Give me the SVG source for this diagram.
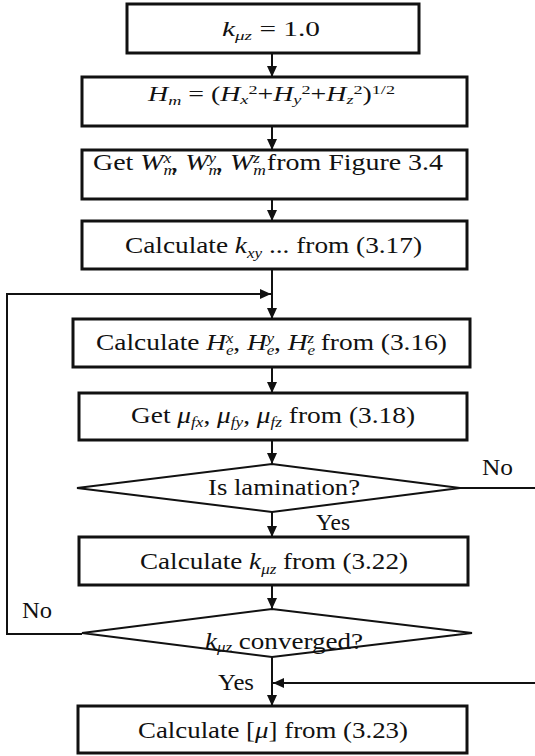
<svg xmlns="http://www.w3.org/2000/svg" width="535" height="756" viewBox="0 0 535 756">
  <style>
    .box { fill: #fff; stroke: #111; stroke-width: 3; }
    .dia { fill: #fff; stroke: #111; stroke-width: 2; }
    .ln { fill: none; stroke: #111; stroke-width: 2; }
    text { font-size: 24px; fill: #111; }
    .sm { font-size: 20px; }
    .i { font-style: italic; }
    .s { font-size: 15px; }
    .ss { font-size: 13px; }
  </style>
  <defs>
    <marker id="arr" markerUnits="userSpaceOnUse" markerWidth="12" markerHeight="10" refX="11" refY="5" orient="auto">
      <path d="M0,0 L11,5 L0,10 z" fill="#111"/>
    </marker>
  </defs>
  <rect width="535" height="756" fill="#fff"/>

  <g font-family="'Liberation Serif', 'DejaVu Serif', serif">
  <!-- connectors -->
  <g id="connectors">
    <line class="ln" x1="272" y1="53" x2="272" y2="77" marker-end="url(#arr)"/>
    <line class="ln" x1="272" y1="126" x2="272" y2="150" marker-end="url(#arr)"/>
    <line class="ln" x1="272" y1="199" x2="272" y2="221" marker-end="url(#arr)"/>
    <line class="ln" x1="272" y1="269" x2="272" y2="319" marker-end="url(#arr)"/>
    <polyline class="ln" points="82,634 7,634 7,294 271,294" marker-end="url(#arr)"/>
    <line class="ln" x1="272" y1="367" x2="272" y2="393" marker-end="url(#arr)"/>
    <line class="ln" x1="272" y1="440" x2="272" y2="464" marker-end="url(#arr)"/>
    <line class="ln" x1="272" y1="512" x2="272" y2="537" marker-end="url(#arr)"/>
    <line class="ln" x1="460" y1="488" x2="535" y2="488"/>
    <line class="ln" x1="272" y1="585" x2="272" y2="609" marker-end="url(#arr)"/>
    <line class="ln" x1="272" y1="657" x2="272" y2="706" marker-end="url(#arr)"/>
    <line class="ln" x1="535" y1="683" x2="273" y2="683" marker-end="url(#arr)"/>
    <text x="482" y="475" textLength="31" lengthAdjust="spacingAndGlyphs">No</text>
    <text x="316" y="530" textLength="34" lengthAdjust="spacingAndGlyphs">Yes</text>
    <text x="22" y="618" textLength="30" lengthAdjust="spacingAndGlyphs">No</text>
    <text x="218" y="690" textLength="36" lengthAdjust="spacingAndGlyphs">Yes</text>
  </g>

  <g id="init">
    <rect class="box" x="127" y="4" width="292" height="49"/>
    <text class="sm" x="222" y="36" textLength="98" lengthAdjust="spacingAndGlyphs"><tspan class="i">k</tspan><tspan class="i ss" dy="4">μz</tspan><tspan dy="-4"> = 1.0</tspan></text>
  </g>

  <g id="hm">
    <rect class="box" x="82" y="77" width="385" height="49"/>
    <text class="sm" x="148" y="101" textLength="247" lengthAdjust="spacingAndGlyphs"><tspan class="i">H</tspan><tspan class="i ss" dy="4">m</tspan><tspan dy="-4"> = (</tspan><tspan class="i">H</tspan><tspan class="i ss" dy="3">x</tspan><tspan class="ss" dy="-10">2</tspan><tspan dy="7">+</tspan><tspan class="i">H</tspan><tspan class="i ss" dy="3">y</tspan><tspan class="ss" dy="-10">2</tspan><tspan dy="7">+</tspan><tspan class="i">H</tspan><tspan class="i ss" dy="3">z</tspan><tspan class="ss" dy="-10">2</tspan><tspan dy="7">)</tspan><tspan class="ss" dy="-7">1/2</tspan></text>
  </g>

  <g id="getw">
    <rect class="box" x="82" y="150" width="385" height="49"/>
    <text x="93" y="170" textLength="350" lengthAdjust="spacingAndGlyphs">Get <tspan class="i">W</tspan><tspan class="i s" dy="5">m</tspan><tspan class="i s" dx="-11" dy="-12">x</tspan><tspan dy="7">, </tspan><tspan class="i">W</tspan><tspan class="i s" dy="5">m</tspan><tspan class="i s" dx="-11" dy="-12">y</tspan><tspan dy="7">, </tspan><tspan class="i">W</tspan><tspan class="i s" dy="5">m</tspan><tspan class="i s" dx="-11" dy="-12">z</tspan><tspan dy="7"> from Figure 3.4</tspan></text>
  </g>

  <g id="kxy">
    <rect class="box" x="82" y="221" width="385" height="48"/>
    <text x="125" y="253" textLength="297" lengthAdjust="spacingAndGlyphs">Calculate <tspan class="i">k</tspan><tspan class="i s" dy="5">xy</tspan><tspan dy="-5"> ... from (3.17)</tspan></text>
  </g>

  <g id="he">
    <rect class="box" x="73" y="319" width="397" height="48"/>
    <text x="96" y="350" textLength="351" lengthAdjust="spacingAndGlyphs">Calculate <tspan class="i">H</tspan><tspan class="i s" dy="5">e</tspan><tspan class="i s" dx="-7" dy="-12">x</tspan><tspan dy="7">, </tspan><tspan class="i">H</tspan><tspan class="i s" dy="5">e</tspan><tspan class="i s" dx="-7" dy="-12">y</tspan><tspan dy="7">, </tspan><tspan class="i">H</tspan><tspan class="i s" dy="5">e</tspan><tspan class="i s" dx="-7" dy="-12">z</tspan><tspan dy="7"> from (3.16)</tspan></text>
  </g>

  <g id="mu">
    <rect class="box" x="79" y="393" width="388" height="47"/>
    <text x="131" y="423" textLength="284" lengthAdjust="spacingAndGlyphs">Get <tspan class="i">μ</tspan><tspan class="i s" dy="4">fx</tspan><tspan dy="-4">, </tspan><tspan class="i">μ</tspan><tspan class="i s" dy="4">fy</tspan><tspan dy="-4">, </tspan><tspan class="i">μ</tspan><tspan class="i s" dy="4">fz</tspan><tspan dy="-4"> from (3.18)</tspan></text>
  </g>

  <g id="lamination">
    <polygon class="dia" points="77,488 272,464 460,488 272,512"/>
    <text x="208" y="495" textLength="152" lengthAdjust="spacingAndGlyphs">Is lamination?</text>
  </g>

  <g id="kmuz">
    <rect class="box" x="79" y="537" width="389" height="48"/>
    <text x="140" y="569" textLength="268" lengthAdjust="spacingAndGlyphs">Calculate <tspan class="i">k</tspan><tspan class="i s" dy="5">μz</tspan><tspan dy="-5"> from (3.22)</tspan></text>
  </g>

  <g id="converged">
    <polygon class="dia" points="82,633 272,609 472,633 272,657"/>
    <text x="205" y="649" textLength="158" lengthAdjust="spacingAndGlyphs"><tspan class="i">k</tspan><tspan class="i s" dy="3">μz</tspan><tspan dy="-3"> converged?</tspan></text>
  </g>

  <g id="result">
    <rect class="box" x="78" y="706" width="389" height="47"/>
    <text x="138" y="738" textLength="270" lengthAdjust="spacingAndGlyphs">Calculate [<tspan class="i">μ</tspan>] from (3.23)</text>
  </g>
  </g>
</svg>
